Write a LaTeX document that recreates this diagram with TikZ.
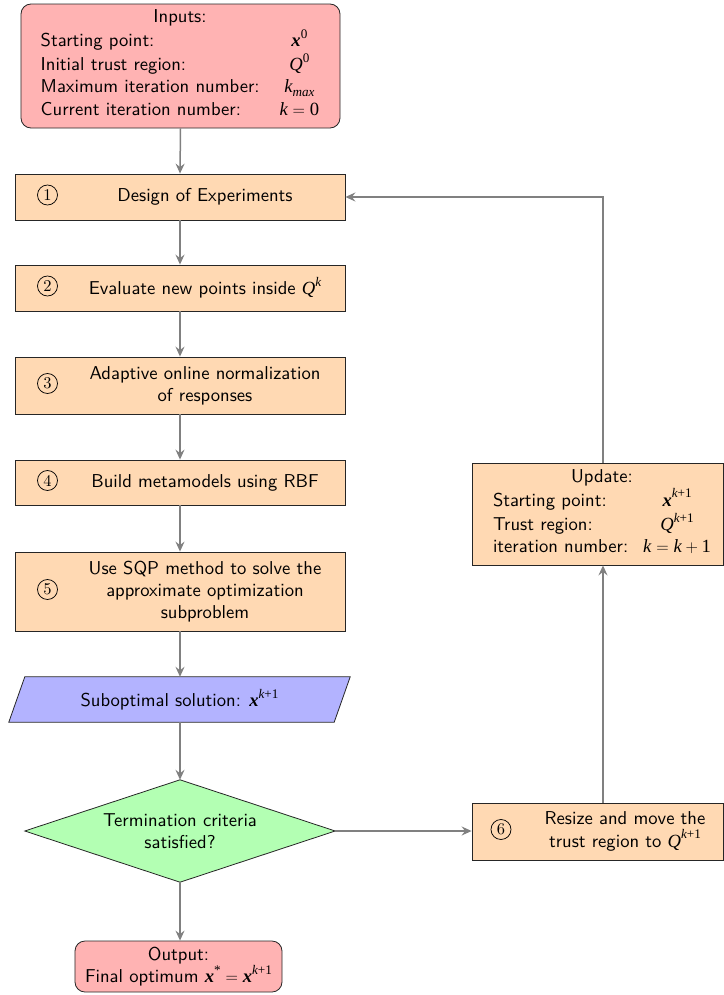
\documentclass[tikz,border=0pt]{standalone}
\usepackage{amsmath}
\usepackage[no-math]{fontspec}
\setsansfont{lmsans10-regular.otf}[BoldFont=lmsans10-bold.otf]
\newfontfamily\tms{Liberation Serif}
\newfontfamily\lmr{lmroman10-regular.otf}
\newcommand\supsz[1]{\raisebox{0.45em}{\fontsize{13.2}{13.2}\selectfont\tms #1}}
\newcommand\subsz[1]{\raisebox{-0.22em}{\fontsize{13.2}{13.2}\selectfont\tms #1}}
\newcommand\bfx{{\tms\bfseries\itshape x}}
\newcommand\itQ{{\tms\itshape Q}}
\newcommand\itk{{\tms\itshape k}}
\newcommand\kp{\itshape k\upshape{+}1}
\newcommand\eqs{\hspace{0.26em}$=$\hspace{0.26em}}
\newcommand\pls{\hspace{0.2em}$+$\hspace{0.2em}}
\usetikzlibrary{arrows.meta,backgrounds,calc}
\definecolor{inred}{RGB}{255,179,179}
\definecolor{stepor}{RGB}{255,217,179}
\definecolor{subblue}{RGB}{179,179,255}
\definecolor{termgreen}{RGB}{179,255,179}
\begin{document}
\begin{tikzpicture}[x=1bp,y=-1bp,
  every node/.style={font=\sffamily\fontsize{18.7}{22.4}\selectfont, inner sep=0pt},
  stepbox/.style={draw=black!85, line width=0.8bp, fill=stepor, minimum width=330bp},
  sidebox/.style={draw=black!85, line width=0.8bp, fill=stepor, minimum width=251bp},
  termbox/.style={draw=black!85, line width=0.8bp, fill=inred, rounded corners=10bp},
  steptext/.style={align=center},
  numtext/.style={circle, draw=black, line width=0.75bp, minimum size=20bp, font=\lmr\fontsize{16.5}{16.5}\selectfont},
  flow/.style={draw=black!50, line width=1.5bp, -{Stealth[length=10bp,width=9bp,inset=3.5bp]}}]
\useasboundingbox (0,0) rectangle (724,995);

% Inputs
\node[termbox, minimum width=319bp, minimum height=124bp] (inputs) at (180.5,66) {};
\node (inputstext) at (180,64.5) {\begin{tabular}{@{}l@{\hspace{20bp}}c@{}}
\multicolumn{2}{c}{Inputs:}\\
Starting point: & \bfx\supsz{0}\\
Initial trust region: & \itQ\supsz{0}\\
Maximum iteration number: & \itk\subsz{\itshape max}\\
Current iteration number: & \itk\eqs{\tms 0}
\end{tabular}};

% Steps
\node[stepbox, minimum height=46bp] (s1) at (180,197) {};
\node[numtext] (n1) at (47.5,195) {1};
\node[steptext] (t1) at (205,197) {Design of Experiments};

\node[stepbox, minimum height=46bp] (s2) at (180,288) {};
\node[numtext] (n2) at (47.5,286) {2};
\node[steptext] (t2) at (205,288) {Evaluate new points inside \itQ\supsz{\itshape k}};

\node[stepbox, minimum height=57bp] (s3) at (180,385.5) {};
\node[numtext] (n3) at (47.5,383.5) {3};
\node[steptext] (t3) at (205,385.5) {Adaptive online normalization\\of responses};

\node[stepbox, minimum height=45bp] (s4) at (180,482.5) {};
\node[numtext] (n4) at (47.5,480.5) {4};
\node[steptext] (t4) at (205,482.5) {Build metamodels using RBF};

\node[stepbox, minimum height=79bp] (s5) at (180,591.5) {};
\node[numtext] (n5) at (47.5,589.5) {5};
\node[steptext] (t5) at (205,591.5) {Use SQP method to solve the\\approximate optimization\\subproblem};

% Suboptimal solution (parallelogram)
\node[minimum width=341bp, minimum height=45bp] (sub) at (179.5,699.5) {Suboptimal solution: \bfx\supsz{\kp}};
\begin{scope}[on background layer]
\draw[draw=black!85, line width=0.8bp, fill=subblue]
  ([xshift=16bp]sub.north west) -- (sub.north east) -- ([xshift=-16bp]sub.south east) -- (sub.south west) -- cycle;
\end{scope}

% Termination (diamond)
\node[minimum width=310bp, minimum height=102bp, align=center] (term) at (180,831) {Termination criteria\\satisfied?};
\begin{scope}[on background layer]
\draw[draw=black!85, line width=0.8bp, fill=termgreen]
  (term.north) -- (term.east) -- (term.south) -- (term.west) -- cycle;
\end{scope}

% Output
\node[termbox, minimum width=207bp, minimum height=51bp, align=center] (out) at (178.5,966.5) {Output:\\Final optimum \bfx\supsz{*}\eqs\bfx\supsz{\kp}};

% Step 6
\node[sidebox, minimum height=57bp] (s6) at (597.5,831.5) {};
\node[numtext] (n6) at (501,829.5) {6};
\node[steptext] (t6) at (625,831.5) {Resize and move the\\trust region to \itQ\supsz{\kp}};

% Update
\node[sidebox, minimum height=102bp] (upd) at (597.5,514) {};
\node (updtext) at (602,513) {\begin{tabular}{@{}l@{\hspace{15bp}}c@{}}
\multicolumn{2}{c}{Update:}\\
Starting point: & \bfx\supsz{\kp}\\
Trust region: & \itQ\supsz{\kp}\\
iteration number: & \itk\eqs\itk\pls{\tms 1}
\end{tabular}};

\coordinate (colx) at (603,0);

% Connectors
\draw[flow] (inputs.south) -- (s1.north);
\draw[flow] (s1.south) -- (s2.north);
\draw[flow] (s2.south) -- (s3.north);
\draw[flow] (s3.south) -- (s4.north);
\draw[flow] (s4.south) -- (s5.north);
\draw[flow] (s5.south) -- (sub.north -| s5.south);
\draw[flow] (sub.south -| term.north) -- (term.north);
\draw[flow] (term.south) -- (out.north -| term.south);
\draw[flow] (term.east) -- (s6.west |- term.east);
\draw[flow] (s6.north -| colx) -- (upd.south -| colx);
\draw[flow] (upd.north -| colx) |- (s1.east);
\end{tikzpicture}
\end{document}
